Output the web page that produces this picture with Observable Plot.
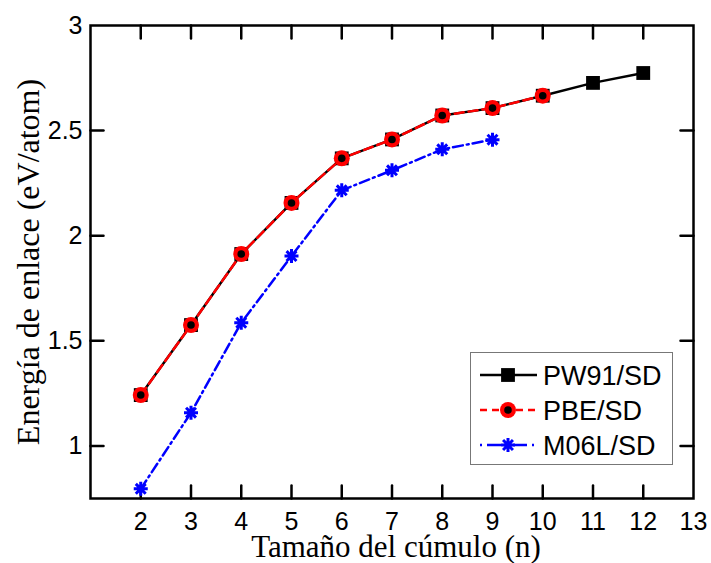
<!DOCTYPE html>
<html>
<head>
<meta charset="utf-8">
<script src="https://cdn.jsdelivr.net/npm/d3@7"></script>
<script src="https://cdn.jsdelivr.net/npm/@observablehq/plot@0.6"></script>
<style>
  html, body { margin: 0; padding: 0; background: #fff; }
  #wrap { position: relative; width: 711px; height: 563px; }
  #wrap svg.plot { position: absolute; left: 0; top: 0; }
  #legend { position: absolute; left: 470px; top: 352px; }
</style>
</head>
<body>
<div id="wrap"></div>
<script>
// Cluster size n
const sizes = [2, 3, 4, 5, 6, 7, 8, 9, 10, 11, 12];
// Binding energy (eV/atom) for each functional
const pw91 = [1.242, 1.575, 1.913, 2.156, 2.368, 2.458, 2.572, 2.607, 2.666, 2.727, 2.774];
const pbe  = [1.242, 1.575, 1.913, 2.156, 2.368, 2.458, 2.572, 2.607, 2.666];
const m06l = [0.796, 1.158, 1.586, 1.903, 2.216, 2.311, 2.411, 2.457];
const seriesNames = ["PW91/SD", "PBE/SD", "M06L/SD"];

// Axis ticks
const xTickLabels = [2, 3, 4, 5, 6, 7, 8, 9, 10, 11, 12, 13];
const yTickLabels = [1, 1.5, 2, 2.5, 3];
const xTitle = "Tamaño del cúmulo (n)";
const yTitle = "Energía de enlace (eV/atom)";

const rows = (vals) => vals.map((v, i) => ({n: sizes[i], e: v}));
const pw91Rows = rows(pw91), pbeRows = rows(pbe), m06lRows = rows(m06l);

// 8-armed asterisk marker
const asterisk = {
  draw(ctx, size) {
    const r = Math.sqrt(size / Math.PI);
    for (let k = 0; k < 4; k++) {
      const a = k * Math.PI / 4;
      const dx = r * Math.cos(a), dy = r * Math.sin(a);
      ctx.moveTo(-dx, -dy);
      ctx.lineTo(dx, dy);
    }
  }
};

// Inward tick line shape for vector marks
const tickShape = { draw(ctx, l) { ctx.moveTo(0, 0); ctx.lineTo(0, -l); } };
const innerX = xTickLabels.filter(d => d < 13);
const innerY = yTickLabels.filter(d => d < 3);
const tickOpts = {length: 13, anchor: "start", shape: tickShape, stroke: "black", strokeWidth: 2.5};
const serif = "'Liberation Serif', 'Times New Roman', serif";

const chart = Plot.plot({
  width: 711,
  height: 563,
  marginLeft: 90,
  marginRight: 18,
  marginTop: 25,
  marginBottom: 65,
  x: {domain: [1, 13]},
  y: {domain: [0.75, 3]},
  style: {fontFamily: "'Liberation Sans', Arial, sans-serif", fontSize: "25px", color: "#000", background: "#fff"},
  marks: [
    Plot.axisX(xTickLabels, {anchor: "bottom", tickSize: 0, tickPadding: 14, fontSize: 25, label: null}),
    Plot.axisY(yTickLabels, {anchor: "left", tickSize: 0, tickPadding: 8, fontSize: 25, label: null, tickFormat: d => String(d)}),
    // inward ticks on all four sides
    Plot.vector(innerX, {x: d => d, frameAnchor: "bottom", rotate: 0, ...tickOpts}),
    Plot.vector(innerX, {x: d => d, frameAnchor: "top", rotate: 180, ...tickOpts}),
    Plot.vector(innerY, {y: d => d, frameAnchor: "left", rotate: 90, ...tickOpts}),
    Plot.vector(innerY, {y: d => d, frameAnchor: "right", rotate: -90, ...tickOpts}),
    Plot.frame({stroke: "black", strokeWidth: 2.5}),

    // PW91/SD
    Plot.line(pw91Rows, {x: "n", y: "e", stroke: "black", strokeWidth: 2.5}),
    Plot.dot(pw91Rows, {x: "n", y: "e", symbol: "square", fill: "black", r: 7.8}),
    // PBE/SD
    Plot.line(pbeRows, {x: "n", y: "e", stroke: "#ff0000", strokeWidth: 2.5, strokeDasharray: "9,5"}),
    Plot.dot(pbeRows, {x: "n", y: "e", fill: "#ff0000", r: 8}),
    Plot.dot(pbeRows, {x: "n", y: "e", fill: "black", r: 3.8}),
    // M06L/SD
    Plot.line(m06lRows, {x: "n", y: "e", stroke: "#0000ff", strokeWidth: 2.5, strokeDasharray: "10,4,2,4"}),
    Plot.dot(m06lRows, {x: "n", y: "e", symbol: asterisk, stroke: "#0000ff", strokeWidth: 3, r: 7}),

    // axis titles
    Plot.text([xTitle], {text: d => d, frameAnchor: "bottom", textAnchor: "middle", lineAnchor: "middle",
      dy: 49, dx: 4, fontFamily: serif, fontSize: 31}),
    Plot.text([yTitle], {text: d => d, frameAnchor: "left", textAnchor: "middle", lineAnchor: "middle",
      dx: -62, rotate: -90, fontFamily: serif, fontSize: 32})
  ]
});
chart.classList.add("plot");
document.getElementById("wrap").appendChild(chart);

// Legend box
const lw = 203, lh = 113;
const leg = d3.select("#wrap").append("svg")
  .attr("id", "legend").attr("width", lw).attr("height", lh);
leg.append("rect").attr("x", 0.5).attr("y", 0.5).attr("width", lw - 1).attr("height", lh - 1)
  .attr("fill", "#fff").attr("stroke", "#777").attr("stroke-width", 1);
const styles = [
  {stroke: "black", dash: null},
  {stroke: "#ff0000", dash: "7,5"},
  {stroke: "#0000ff", dash: "2,5,14,5"}
];
seriesNames.forEach((name, i) => {
  const cy = 23 + i * 35;
  const g = leg.append("g");
  g.append("line").attr("x1", 10).attr("x2", 67).attr("y1", cy).attr("y2", cy)
    .attr("stroke", styles[i].stroke).attr("stroke-width", 2.5)
    .attr("stroke-dasharray", styles[i].dash);
  if (i === 0) {
    g.append("path").attr("transform", `translate(38,${cy})`)
      .attr("d", d3.symbol(d3.symbolSquare, Math.PI * 7.8 * 7.8)()).attr("fill", "black");
  } else if (i === 1) {
    g.append("circle").attr("cx", 38).attr("cy", cy).attr("r", 8).attr("fill", "#ff0000");
    g.append("circle").attr("cx", 38).attr("cy", cy).attr("r", 3.8).attr("fill", "black");
  } else {
    g.append("path").attr("transform", `translate(38,${cy})`)
      .attr("d", d3.symbol(asterisk, Math.PI * 49)()).attr("fill", "none")
      .attr("stroke", "#0000ff").attr("stroke-width", 3);
  }
  g.append("text").attr("x", 73).attr("y", cy).attr("dy", "0.36em")
    .attr("font-family", "'Liberation Sans', Arial, sans-serif").attr("font-size", 27)
    .text(name);
});
</script>
</body>
</html>
